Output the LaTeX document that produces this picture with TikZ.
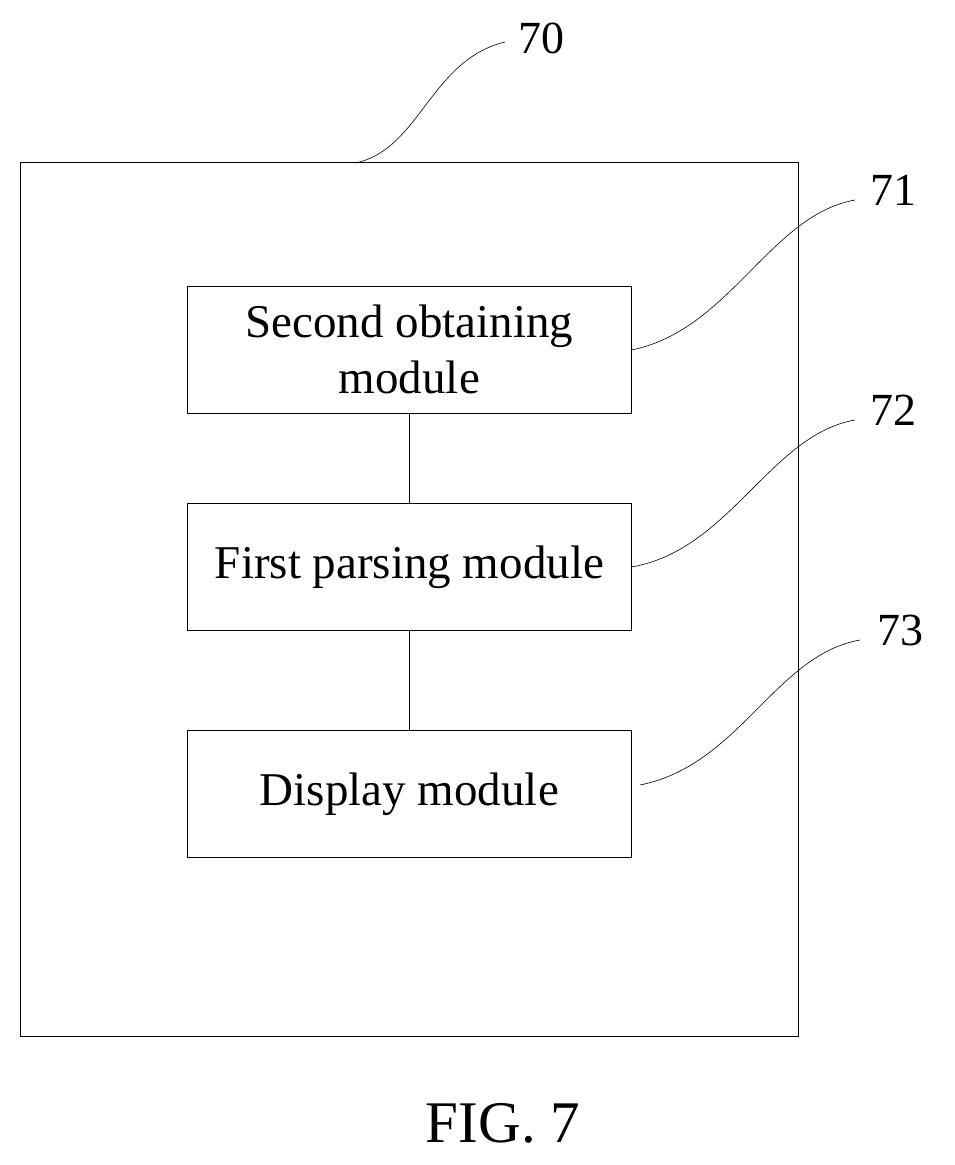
\documentclass[tikz,border=0pt]{standalone}
\usepackage{fontspec}
\setmainfont{Liberation Serif}
\begin{document}
\begin{tikzpicture}[x=1pt,y=-1pt,
  box/.style={draw,line width=0.8pt,minimum width=444pt,minimum height=127pt,align=center,font=\fontsize{47}{56}\selectfont,anchor=north west,inner sep=0pt},
  lead/.style={line width=0.6pt},
  lbl/.style={font=\fontsize{46}{52}\selectfont}]
\useasboundingbox (0,0) rectangle (955,1165);
\node[draw,line width=0.8pt,minimum width=778pt,minimum height=874pt,anchor=north west,inner sep=0pt] (outer) at (20,162) {};
\node[box] (b1) at (187,286) {Second obtaining\\module};
\node[box] (b2) at (187,503) {First parsing module};
\node[box] (b3) at (187,730) {Display module};
\draw[line width=0.8pt] (b1.south) -- (b2.north);
\draw[line width=0.8pt] (b2.south) -- (b3.north);
\node[lbl] (l70) at (541,38) {70};
\node[lbl] (l71) at (893,190) {71};
\node[lbl] (l72) at (893,410) {72};
\node[lbl] (l73) at (900,630) {73};
\coordinate (s70) at (355,163);
\coordinate (s71) at (b1.east);
\coordinate (s72) at (b2.east);
\coordinate (s73) at (640,785);
\draw[lead] (s70) .. controls (420,150) and (430,60) .. (505,42);
\draw[lead] (s71) .. controls (730,330) and (770,215) .. (855,200);
\draw[lead] (s72) .. controls (730,550) and (770,435) .. (855,420);
\draw[lead] (s73) .. controls (740,765) and (775,655) .. (860,640);
\node[font=\fontsize{59}{66}\selectfont] (fig) at (503,1123) {FIG. 7};
\end{tikzpicture}
\end{document}
